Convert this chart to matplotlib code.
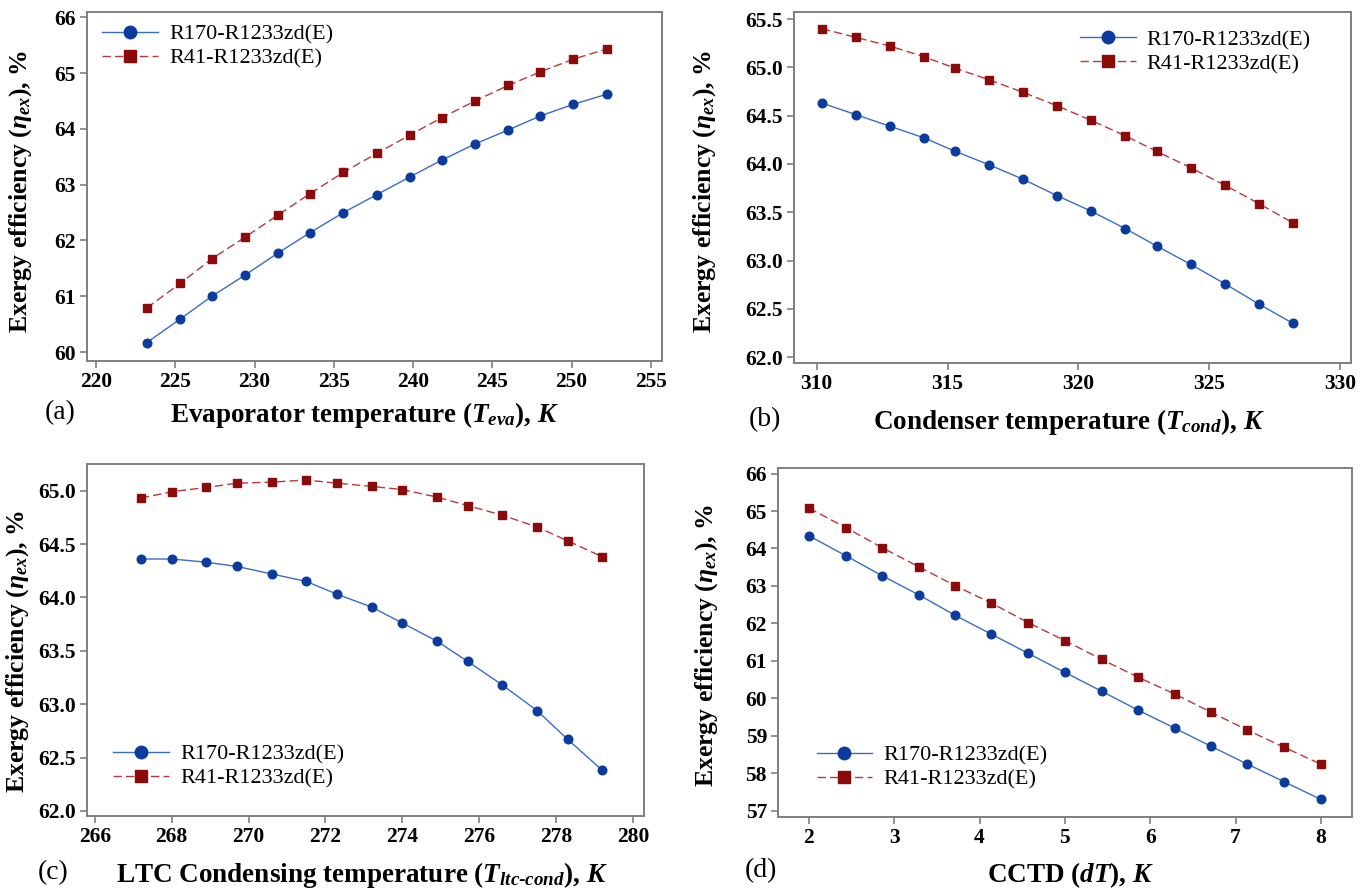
import matplotlib.pyplot as plt

plt.rcParams["font.family"] = ["Liberation Serif", "DejaVu Serif"]
plt.rcParams["mathtext.fontset"] = "custom"
plt.rcParams["mathtext.rm"] = "Liberation Serif:bold"
plt.rcParams["mathtext.it"] = "Liberation Serif:italic:bold"
plt.rcParams["mathtext.bf"] = "Liberation Serif:bold"

LABELS = ["R170-R1233zd(E)", "R41-R1233zd(E)"]

# (a) evaporator temperature
t_eva = [223.2, 225.3, 227.3, 229.4, 231.5, 233.5, 235.6, 237.7,
         239.8, 241.8, 243.9, 246.0, 248.0, 250.1, 252.2]
eva_r170 = [60.17, 60.59, 61.00, 61.38, 61.78, 62.14, 62.50, 62.82,
            63.14, 63.44, 63.73, 63.98, 64.23, 64.44, 64.62]
eva_r41 = [60.79, 61.23, 61.67, 62.06, 62.46, 62.84, 63.22, 63.56,
           63.89, 64.20, 64.50, 64.78, 65.02, 65.25, 65.43]

# (b) condenser temperature
t_cond = [310.2, 311.5, 312.8, 314.1, 315.3, 316.6, 317.9, 319.2,
          320.5, 321.8, 323.0, 324.3, 325.6, 326.9, 328.2]
cond_r170 = [64.63, 64.51, 64.39, 64.27, 64.13, 63.99, 63.84, 63.67,
             63.51, 63.33, 63.15, 62.96, 62.76, 62.55, 62.35]
cond_r41 = [65.40, 65.31, 65.22, 65.11, 64.99, 64.87, 64.74, 64.60,
            64.45, 64.29, 64.13, 63.96, 63.78, 63.59, 63.39]

# (c) LTC condensing temperature
t_ltc = [267.2, 268.0, 268.9, 269.7, 270.6, 271.5, 272.3, 273.2,
         274.0, 274.9, 275.7, 276.6, 277.5, 278.3, 279.2]
ltc_r170 = [64.36, 64.36, 64.33, 64.29, 64.22, 64.15, 64.03, 63.91,
            63.76, 63.59, 63.40, 63.18, 62.94, 62.67, 62.38]
ltc_r41 = [64.93, 64.99, 65.03, 65.07, 65.08, 65.10, 65.07, 65.04,
           65.01, 64.94, 64.86, 64.77, 64.66, 64.53, 64.38]

# (d) CCTD
cctd = [2.00, 2.43, 2.86, 3.29, 3.71, 4.14, 4.57, 5.00,
        5.43, 5.86, 6.29, 6.71, 7.14, 7.57, 8.00]
cctd_r170 = [64.34, 63.81, 63.27, 62.76, 62.22, 61.71, 61.20, 60.69,
             60.19, 59.68, 59.20, 58.72, 58.24, 57.77, 57.30]
cctd_r41 = [65.08, 64.56, 64.02, 63.51, 63.01, 62.54, 62.02, 61.54,
            61.04, 60.56, 60.11, 59.63, 59.15, 58.69, 58.24]

YLABEL = r"Exergy efficiency ($\eta_{ex}$), %"


def draw_panel(ax, x, y1, y2, xlim, ylim, xticks, yticks, yfmt,
               legend_loc, legend_anchor, ylabel_pos):

    ax.plot(
        x, y1,
        color="#3a6cc6", linewidth=1.0,
        marker="o", markersize=6.2,
        markerfacecolor="#0b3b9c", markeredgecolor="#0b3b9c",
        label=LABELS[0],
    )

    ax.plot(
        x, y2,
        color="#b8393b", linewidth=1.0, linestyle=(0, (6, 3)),
        marker="s", markersize=6.0,
        markerfacecolor="#8b0a0a", markeredgecolor="#8b0a0a",
        label=LABELS[1],
    )

    ax.set_xlim(*xlim)
    ax.set_ylim(*ylim)
    ax.set_xticks(xticks)
    ax.set_yticks(yticks)
    ax.set_yticklabels([yfmt.format(v) for v in yticks])

    for spine in ax.spines.values():
        spine.set_color("#7f7f7f")
        spine.set_linewidth(1.4)

    ax.tick_params(
        direction="out", length=5, width=1.2, color="#7f7f7f",
        labelsize=15.5, pad=3,
    )
    for lbl in ax.get_xticklabels() + ax.get_yticklabels():
        lbl.set_fontweight("bold")

    # label anchor is the right edge of the rotated text
    ax.set_ylabel(YLABEL, fontsize=18.5, fontweight="bold")
    ax.yaxis.set_label_coords(*ylabel_pos)

    ax.legend(
        loc=legend_loc, bbox_to_anchor=legend_anchor,
        frameon=False, fontsize=16, handlelength=2.5,
        markerscale=1.45, labelspacing=0.15, handletextpad=0.5,
        borderaxespad=0.3,
    )


fig = plt.figure(figsize=(13.69, 8.89), dpi=100)

ax_a = fig.add_axes([0.0633, 0.5939, 0.4203, 0.3923])
ax_b = fig.add_axes([0.5800, 0.5917, 0.4072, 0.3945])
ax_c = fig.add_axes([0.0633, 0.0818, 0.4073, 0.3963])
ax_d = fig.add_axes([0.5684, 0.0806, 0.4195, 0.3930])

draw_panel(ax_a, t_eva, eva_r170, eva_r41,
           (219.41, 255.7), (59.84, 66.09),
           range(220, 256, 5), range(60, 67), "{:d}",
           "upper left", (0.0, 1.01), (-0.092, 0.4875))

draw_panel(ax_b, t_cond, cond_r170, cond_r41,
           (309.13, 330.44), (61.94, 65.57),
           range(310, 331, 5), [62.0 + 0.5 * i for i in range(8)], "{:.1f}",
           "upper right", (0.955, 0.995), (-0.136, 0.49))

draw_panel(ax_c, t_ltc, ltc_r170, ltc_r41,
           (265.79, 280.29), (61.95, 65.25),
           range(266, 281, 2), [62.0 + 0.5 * i for i in range(7)], "{:.1f}",
           "lower left", (0.02, 0.035), (-0.100, 0.468))

draw_panel(ax_d, cctd, cctd_r170, cctd_r41,
           (1.64, 8.37), (56.82, 66.15),
           range(2, 9), range(57, 67), "{:d}",
           "lower left", (0.04, 0.035), (-0.101, 0.493))

xlab_kw = dict(fontsize=19.5, fontweight="bold", ha="center", va="center")
tag_kw = dict(fontsize=20, ha="center", va="center")

fig.text(365 / 1369, 1 - 415 / 889,
         r"Evaporator temperature ($T_{eva}$), $K$", **xlab_kw)
fig.text(60 / 1369, 1 - 413 / 889, "(a)", **tag_kw)

fig.text(1069 / 1369, 1 - 422 / 889,
         r"Condenser temperature ($T_{cond}$), $K$", **xlab_kw)
fig.text(765 / 1369, 1 - 420 / 889, "(b)", **tag_kw)

fig.text(362 / 1369, 1 - 875 / 889,
         r"LTC Condensing temperature ($T_{ltc\text{-}cond}$), $K$", **xlab_kw)
fig.text(53 / 1369, 1 - 873 / 889, "(c)", **tag_kw)

fig.text(1071 / 1369, 1 - 875 / 889,
         r"CCTD ($dT$), $K$", **xlab_kw)
fig.text(761 / 1369, 1 - 871 / 889, "(d)", **tag_kw)

fig.savefig("out.png", dpi=100)
plt.close(fig)
